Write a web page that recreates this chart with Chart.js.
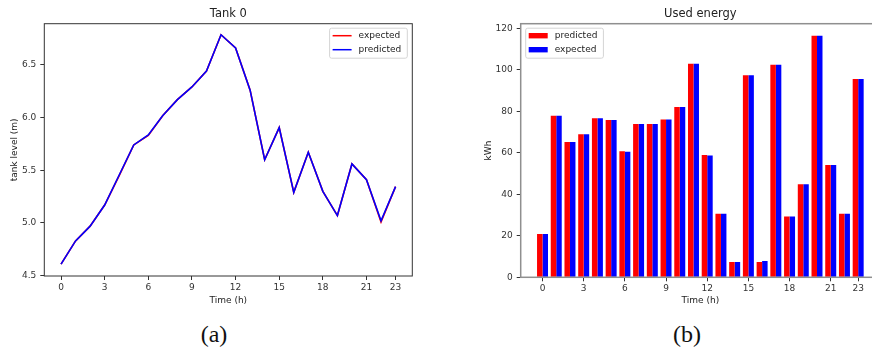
<!DOCTYPE html>
<html>
<head>
<meta charset="utf-8">
<script src="https://cdn.jsdelivr.net/npm/chart.js@4.4.0/dist/chart.umd.min.js"></script>
<style>
html, body { margin: 0; padding: 0; background: #fff; overflow: hidden; }
body { width: 872px; height: 352px; position: relative; }
.box { position: absolute; top: 0; height: 310px; }
#boxA { left: 0; width: 436px; }
#boxB { left: 440px; width: 460px; }
.cap { position: absolute; top: 321px; width: 60px; text-align: center;
       font-family: "Liberation Serif", serif; font-size: 24px; color: #111; }
</style>
</head>
<body>
<div class="box" id="boxA"><canvas id="tank" width="436" height="310"></canvas></div>
<div class="box" id="boxB"><canvas id="energy" width="460" height="310"></canvas></div>
<div class="cap" style="left:184px">(a)</div>
<div class="cap" style="left:657px">(b)</div>
<script>
// hours of the day
var hours = [0, 1, 2, 3, 4, 5, 6, 7, 8, 9, 10, 11, 12, 13, 14, 15, 16, 17, 18, 19, 20, 21, 22, 23];
var hourTicks = [0, 3, 6, 9, 12, 15, 18, 21, 23];

// tank 0 level (m)
var tankExpected  = [4.61, 4.83, 4.97, 5.17, 5.45, 5.74, 5.83, 6.02, 6.17, 6.29, 6.44, 6.785, 6.66, 6.26, 5.60, 5.905, 5.29, 5.67, 5.30, 5.07, 5.56, 5.41, 5.01, 5.345];
var tankPredicted = [4.61, 4.83, 4.97, 5.17, 5.455, 5.74, 5.835, 6.02, 6.17, 6.29, 6.44, 6.785, 6.66, 6.26, 5.60, 5.905, 5.29, 5.67, 5.30, 5.07, 5.56, 5.41, 5.02, 5.345];
var tankTicks = [4.5, 5.0, 5.5, 6.0, 6.5];

// used energy (kWh)
var energyPredicted = [20.9, 77.9, 65.3, 69.0, 76.7, 75.8, 60.8, 73.9, 73.9, 76.1, 82.1, 103.0, 59.0, 30.6, 7.4, 97.5, 7.4, 102.5, 29.3, 44.9, 116.5, 54.2, 30.6, 95.6];
var energyExpected  = [20.9, 77.9, 65.3, 69.0, 76.7, 75.8, 60.5, 73.9, 73.9, 76.1, 82.1, 103.0, 58.7, 30.6, 7.4, 97.5, 7.9, 102.5, 29.3, 44.9, 116.5, 54.2, 30.6, 95.6];
var energyTicks = [0, 20, 40, 60, 80, 100, 120];

Chart.defaults.font.family = '"DejaVu Sans", sans-serif';
Chart.defaults.font.size = 9;
Chart.defaults.color = '#333';
Chart.defaults.animation = false;

function pts(vals) {
    return vals.map(function (v, i) { return { x: hours[i], y: v }; });
}

// box, title and in-axes legend like the matplotlib figure
var framePlugin = {
    id: 'frame',
    afterDraw: function (chart, args, opts) {
        var ctx = chart.ctx, a = chart.chartArea;
        ctx.save();
        ctx.strokeStyle = opts.color;
        ctx.lineWidth = opts.width;
        ctx.strokeRect(a.left, a.top, a.right - a.left, a.bottom - a.top);

        ctx.fillStyle = '#222';
        ctx.font = '11.5px "DejaVu Sans"';
        ctx.textAlign = 'center';
        ctx.textBaseline = 'middle';
        ctx.fillText(opts.title, (a.left + a.right) / 2, 14);

        ctx.font = '9px "DejaVu Sans"';
        var items = opts.order.map(function (i) { return chart.data.datasets[i]; });
        var tw = 0;
        items.forEach(function (d) { tw = Math.max(tw, ctx.measureText(d.label).width); });
        var w = 29 + tw + 6, h = 30;
        var x0 = opts.side === 'right' ? a.right - 5 - w : a.left + 5;
        var y0 = a.top + 4.5;
        ctx.fillStyle = 'rgba(255,255,255,0.85)';
        ctx.strokeStyle = '#d4d4d4';
        ctx.lineWidth = 1;
        ctx.beginPath();
        ctx.roundRect(x0, y0, w, h, 2);
        ctx.fill();
        ctx.stroke();
        items.forEach(function (d, k) {
            var cy = y0 + 7.5 + k * 14;
            if (opts.patch) {
                ctx.fillStyle = d.backgroundColor;
                ctx.fillRect(x0 + 3, cy - 2.7, 19, 5.4);
            } else {
                ctx.strokeStyle = d.borderColor;
                ctx.lineWidth = 1.5;
                ctx.beginPath();
                ctx.moveTo(x0 + 3, cy);
                ctx.lineTo(x0 + 22, cy);
                ctx.stroke();
            }
            ctx.fillStyle = '#222';
            ctx.textAlign = 'left';
            ctx.fillText(d.label, x0 + 29, cy);
        });
        ctx.restore();
    }
};

function setTicks(list) {
    return function (scale) {
        scale.ticks = list.map(function (v) { return { value: v }; });
    };
}

new Chart(document.getElementById('tank'), {
    type: 'line',
    data: {
        datasets: [
            { label: 'expected', data: pts(tankExpected), borderColor: '#ff0000', borderWidth: 1.6, pointRadius: 0, order: 2 },
            { label: 'predicted', data: pts(tankPredicted), borderColor: '#0000ff', borderWidth: 1.6, pointRadius: 0, order: 1 }
        ]
    },
    options: {
        responsive: false,
        devicePixelRatio: 1,
        layout: { padding: { left: 5.6, right: 23.7, top: 23.7, bottom: 2.6 } },
        plugins: {
            legend: { display: false },
            tooltip: { enabled: false },
            frame: { title: 'Tank 0', color: '#333', width: 1, side: 'right', order: [0, 1], patch: false }
        },
        scales: {
            x: {
                type: 'linear', min: -1.15, max: 24.15,
                afterBuildTicks: setTicks(hourTicks),
                afterFit: function (s) { s.height = 31.4; },
                ticks: { padding: 2, maxRotation: 0, callback: function (v) { return v; } },
                grid: { drawOnChartArea: false, tickLength: 4, color: '#333' },
                border: { display: false },
                title: { display: true, text: 'Time (h)', padding: { top: 2, bottom: 1.5 }, color: '#222' }
            },
            y: {
                min: 4.497, max: 6.89,
                afterBuildTicks: setTicks(tankTicks),
                afterFit: function (s) { s.width = 38.7; },
                ticks: { padding: 4, callback: function (v) { return v.toFixed(1); } },
                grid: { drawOnChartArea: false, tickLength: 4, color: '#333' },
                border: { display: false },
                title: { display: true, text: 'tank level (m)', padding: { top: 4, bottom: 2 }, color: '#222' }
            }
        }
    },
    plugins: [framePlugin]
});

new Chart(document.getElementById('energy'), {
    type: 'bar',
    data: {
        datasets: [
            { label: 'predicted', data: pts(energyPredicted), backgroundColor: '#ff0000' },
            { label: 'expected', data: pts(energyExpected), backgroundColor: '#0000ff' }
        ]
    },
    options: {
        responsive: false,
        devicePixelRatio: 1,
        layout: { padding: { left: 38.9, right: 20, top: 23.7, bottom: 2.6 } },
        datasets: { bar: { categoryPercentage: 0.8, barPercentage: 1.0, grouped: true } },
        plugins: {
            legend: { display: false },
            tooltip: { enabled: false },
            frame: { title: 'Used energy', color: '#8f8f8f', width: 1.5, side: 'left', order: [0, 1], patch: true }
        },
        scales: {
            x: {
                type: 'linear', min: -1.59, max: 24.59, offset: false,
                afterBuildTicks: setTicks(hourTicks),
                afterFit: function (s) { s.height = 30.1; },
                ticks: { padding: 2, maxRotation: 0, callback: function (v) { return v; } },
                grid: { offset: false, drawOnChartArea: false, tickLength: 4, color: '#333' },
                border: { display: false },
                title: { display: true, text: 'Time (h)', padding: { top: 2, bottom: 1.5 }, color: '#222' }
            },
            y: {
                min: 0, max: 122.3,
                afterBuildTicks: setTicks(energyTicks),
                afterFit: function (s) { s.width = 41.8; },
                ticks: { padding: 4 },
                grid: { drawOnChartArea: false, tickLength: 4, color: '#333' },
                border: { display: false },
                title: { display: true, text: 'kWh', padding: { top: 4, bottom: 2 }, color: '#222' }
            }
        }
    },
    plugins: [framePlugin]
});
</script>
</body>
</html>
